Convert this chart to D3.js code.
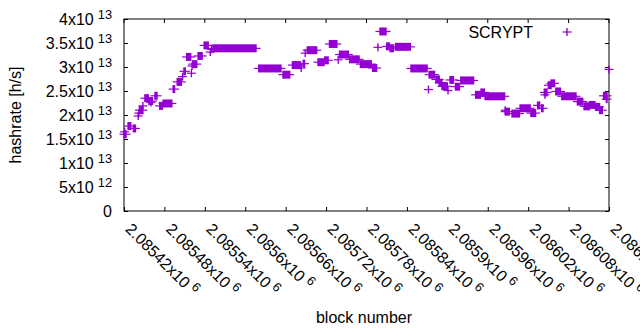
<!DOCTYPE html>
<html>
<head>
<meta charset="utf-8">
<script src="https://cdn.jsdelivr.net/npm/d3@7"></script>
<style>
  body { margin: 0; background: #fff; }
  text { font-family: "Liberation Sans", Arial, sans-serif; fill: #000; }
</style>
</head>
<body>
<div id="chart"></div>
<script>
// runs of SCRYPT blocks: [first block, last block, hashrate in h/s]
const scryptRuns = [
  [2085420, 2085423, 1.60e13], [2085421, 2085421, 1.65e13], [2085426, 2085430, 1.77e13],
  [2085434, 2085437, 1.72e13], [2085441, 2085441, 1.98e13], [2085442, 2085442, 2.04e13],
  [2085443, 2085448, 2.10e13], [2085448, 2085448, 2.19e13], [2085451, 2085456, 2.35e13],
  [2085457, 2085462, 2.29e13], [2085460, 2085460, 2.26e13], [2085466, 2085469, 2.40e13],
  [2085473, 2085477, 2.19e13], [2085478, 2085491, 2.24e13], [2085493, 2085495, 2.54e13],
  [2085499, 2085505, 2.69e13], [2085507, 2085507, 2.80e13], [2085509, 2085511, 2.91e13],
  [2085513, 2085519, 3.21e13], [2085520, 2085520, 2.87e13], [2085521, 2085521, 3.02e13],
  [2085522, 2085528, 3.06e13], [2085530, 2085536, 3.23e13], [2085539, 2085545, 3.45e13],
  [2085548, 2085548, 3.31e13], [2085550, 2085550, 3.37e13], [2085552, 2085616, 3.39e13],
  [2085620, 2085653, 2.97e13], [2085656, 2085666, 2.84e13], [2085670, 2085682, 3.04e13],
  [2085683, 2085683, 2.98e13], [2085686, 2085688, 3.07e13], [2085689, 2085689, 3.29e13],
  [2085692, 2085706, 3.35e13], [2085708, 2085717, 3.10e13], [2085718, 2085723, 3.14e13],
  [2085725, 2085736, 3.48e13], [2085738, 2085738, 3.15e13], [2085740, 2085753, 3.26e13],
  [2085755, 2085769, 3.16e13], [2085771, 2085787, 3.06e13], [2085789, 2085795, 2.98e13],
  [2085797, 2085797, 3.41e13], [2085800, 2085809, 3.74e13], [2085810, 2085814, 3.43e13],
  [2085815, 2085820, 3.39e13], [2085823, 2085845, 3.42e13], [2085846, 2085870, 2.97e13],
  [2085872, 2085872, 2.53e13], [2085873, 2085881, 2.84e13], [2085883, 2085888, 2.74e13],
  [2085888, 2085892, 2.67e13], [2085892, 2085900, 2.60e13], [2085901, 2085901, 2.51e13],
  [2085904, 2085909, 2.73e13], [2085912, 2085918, 2.59e13], [2085920, 2085939, 2.72e13],
  [2085942, 2085949, 2.42e13], [2085950, 2085955, 2.47e13], [2085956, 2085985, 2.39e13],
  [2085986, 2085986, 2.10e13], [2085986, 2085992, 2.07e13], [2085996, 2086007, 2.03e13],
  [2086008, 2086023, 2.14e13], [2086024, 2086031, 2.04e13], [2086034, 2086037, 2.20e13],
  [2086040, 2086042, 2.14e13], [2086044, 2086048, 2.47e13], [2086045, 2086045, 2.42e13],
  [2086050, 2086054, 2.62e13], [2086054, 2086059, 2.66e13], [2086061, 2086068, 2.49e13],
  [2086070, 2086091, 2.39e13], [2086093, 2086101, 2.28e13], [2086103, 2086111, 2.18e13],
  [2086111, 2086119, 2.21e13], [2086120, 2086126, 2.17e13], [2086126, 2086130, 2.10e13],
  [2086132, 2086137, 2.40e13], [2086136, 2086137, 2.33e13], [2086140, 2086140, 2.95e13]
];
const seriesName = "SCRYPT";
const xTickValues = [2085420, 2085480, 2085540, 2085600, 2085660, 2085720, 2085780,
                     2085840, 2085900, 2085960, 2086020, 2086080, 2086140];
const yTickValues = [0, 5e12, 1e13, 1.5e13, 2e13, 2.5e13, 3e13, 3.5e13, 4e13];
const xTitle = "block number";
const yTitle = "hashrate [h/s]";

const width = 640, height = 330;
const plotLeft = 124, plotRight = 609, plotTop = 19, plotBottom = 211;
const color = "#9400d3";

const x = d3.scaleLinear().domain([2085420, 2086140]).range([plotLeft, plotRight]);
const y = d3.scaleLinear().domain([0, 4e13]).range([plotBottom, plotTop]);

const svg = d3.select("#chart").append("svg")
  .attr("width", width)
  .attr("height", height);

// gnuplot style "mantissa x10^exp" labels
const sci = (v) => {
  if (v === 0) return ["0", null];
  const e = Math.floor(Math.log10(v));
  const m = +(v / Math.pow(10, e)).toPrecision(6);
  return [m + "x10", e];
};
const setLabel = (sel) => {
  sel.each(function (d) {
    const [m, e] = sci(d);
    const t = d3.select(this).text(null);
    t.append("tspan").text(m);
    if (e !== null) {
      t.append("tspan").attr("dx", 4).attr("dy", -6).attr("font-size", 12.8).text(e);
    }
  });
};

// y axis
const yAxis = svg.append("g")
  .attr("transform", `translate(${plotLeft},0)`)
  .call(d3.axisLeft(y).tickValues(yTickValues).tickSize(-4).tickSizeOuter(0).tickPadding(12));
yAxis.select(".domain").remove();
yAxis.selectAll("text")
  .attr("font-size", 16)
  .attr("dy", "0.35em")
  .call(setLabel);
yAxis.attr("font-family", null);

// x axis
const xAxis = svg.append("g")
  .attr("transform", `translate(0,${plotBottom})`)
  .call(d3.axisBottom(x).tickValues(xTickValues).tickSize(-4).tickSizeOuter(0));
xAxis.select(".domain").remove();
xAxis.selectAll("text")
  .attr("font-size", 16)
  .attr("y", null)
  .attr("dy", null)
  .attr("text-anchor", "start")
  .attr("transform", "translate(0,19) rotate(45)")
  .call(setLabel);
xAxis.attr("font-family", null);
svg.selectAll(".tick line").attr("stroke", "#000");

// mirror ticks on top and right
svg.append("g").selectAll("line")
  .data(xTickValues)
  .join("line")
  .attr("x1", (d) => x(d)).attr("x2", (d) => x(d))
  .attr("y1", plotTop).attr("y2", plotTop + 4)
  .attr("stroke", "#000");
svg.append("g").selectAll("line")
  .data(yTickValues)
  .join("line")
  .attr("x1", plotRight).attr("x2", plotRight - 4)
  .attr("y1", (d) => y(d) + 0.5).attr("y2", (d) => y(d) + 0.5)
  .attr("stroke", "#000");

// border
svg.append("rect")
  .attr("x", plotLeft).attr("y", plotTop)
  .attr("width", plotRight - plotLeft).attr("height", plotBottom - plotTop)
  .attr("fill", "none")
  .attr("stroke", "#000");

// points: each run of blocks is a row of "+" marks
const pts = svg.append("g");
pts.selectAll("rect")
  .data(scryptRuns)
  .join("rect")
  .attr("x", (d) => x(d[0]) - 0.7)
  .attr("width", (d) => x(d[1]) - x(d[0]) + 1.4)
  .attr("y", (d) => y(d[2]) - 4)
  .attr("height", 8)
  .attr("fill", color);
pts.selectAll("line")
  .data(scryptRuns)
  .join("line")
  .attr("x1", (d) => x(d[0]) - 4.5)
  .attr("x2", (d) => x(d[1]) + 4.5)
  .attr("y1", (d) => y(d[2]))
  .attr("y2", (d) => y(d[2]))
  .attr("stroke", color)
  .attr("stroke-width", 1.2);

// key
svg.append("text")
  .attr("x", 533).attr("y", 37.5)
  .attr("text-anchor", "end")
  .attr("font-size", 16)
  .text(seriesName);
const key = svg.append("g").attr("transform", "translate(567,32)");
key.append("line").attr("x1", -4.5).attr("x2", 4.5).attr("stroke", color).attr("stroke-width", 1.2);
key.append("line").attr("y1", -4).attr("y2", 4).attr("stroke", color).attr("stroke-width", 1.4);

// axis titles
svg.append("text")
  .attr("x", 364).attr("y", 323)
  .attr("text-anchor", "middle")
  .attr("font-size", 16)
  .text(xTitle);
svg.append("text")
  .attr("transform", "translate(21,115) rotate(-90)")
  .attr("text-anchor", "middle")
  .attr("font-size", 16)
  .text(yTitle);
</script>
</body>
</html>
